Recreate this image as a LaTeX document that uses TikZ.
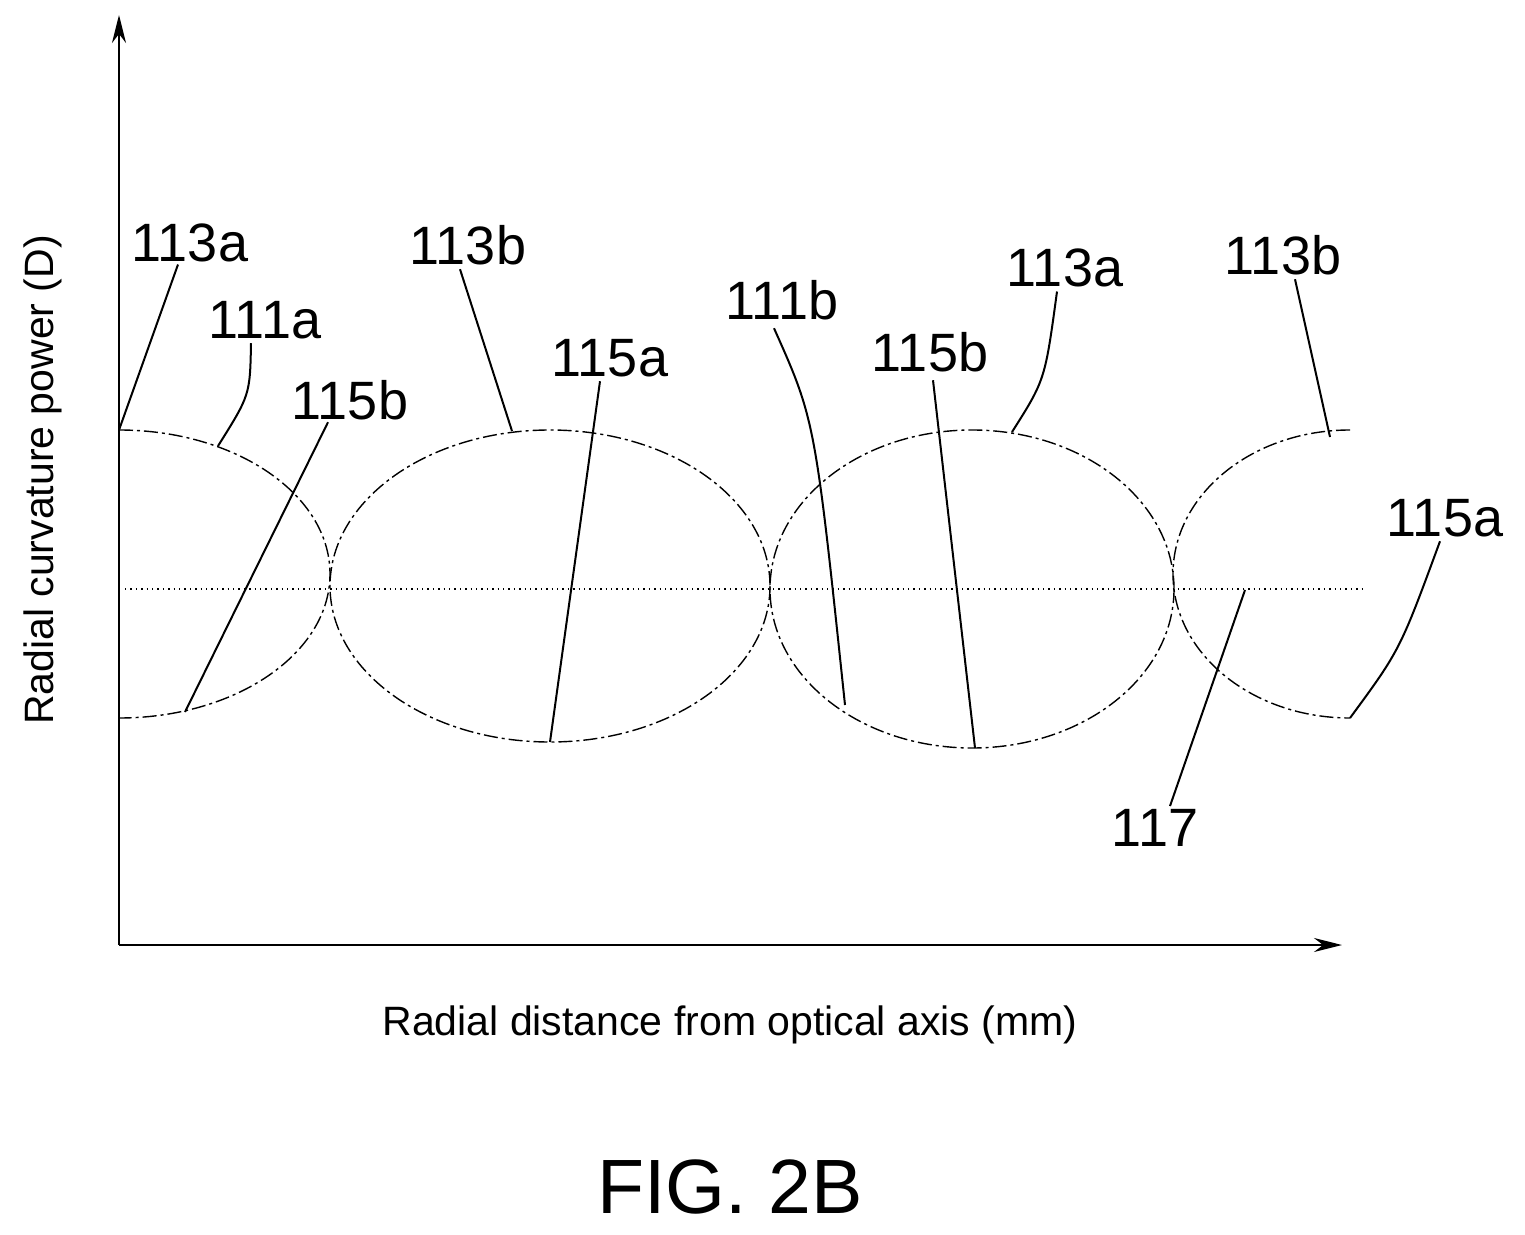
\documentclass[tikz,border=0pt]{standalone}
\usepackage{fontspec}
\setmainfont{Liberation Sans}
\usetikzlibrary{arrows.meta}
\begin{document}
\begin{tikzpicture}[x=0.5pt,y=-0.5pt,
 lbl/.style={font=\fontsize{27}{30}\selectfont,inner sep=0pt},
 curve/.style={line width=0.7pt,dash pattern=on 7pt off 2pt on 1.5pt off 2pt},
 lead/.style={line width=1pt}]
\useasboundingbox (0,0) rectangle (1525,1235);
\coordinate (O) at (119,945);
\coordinate (Ytop) at (119,15);
\coordinate (Xend) at (1342,945);
\draw[line width=1.2pt,-{Stealth[length=14pt,width=7pt]}] (O) -- (Ytop);
\draw[line width=1.2pt,-{Stealth[length=14pt,width=7pt]}] (O) -- (Xend);
\coordinate (d1) at (125,589); \coordinate (d2) at (1365,589);
\draw[line width=0.7pt,dotted] (d1) -- (d2);
% curves
\draw[curve] (119,430) arc[start angle=-90,end angle=90,x radius=211,y radius=144];
\draw[curve] (550,586) ellipse[x radius=220,y radius=156];
\draw[curve] (972,589) ellipse[x radius=202,y radius=159];
\draw[curve] (1350,430) arc[start angle=-90,end angle=-270,x radius=177,y radius=144];
% labels
\node[lbl] (a1) at (190,243) {113a};
\node[lbl] (a2) at (265,320) {111a};
\node[lbl] (a3) at (350,400) {115b};
\node[lbl] (a4) at (468,245) {113b};
\node[lbl] (a5) at (610,358) {115a};
\node[lbl] (a6) at (782,300) {111b};
\node[lbl] (a7) at (930,352) {115b};
\node[lbl] (a8) at (1065,268) {113a};
\node[lbl] (a9) at (1283,255) {113b};
\node[lbl] (a10) at (1445,518) {115a};
\node[lbl] (a11) at (1155,828) {117};
\coordinate (e1) at (119,430);
\coordinate (e2) at (218,446);
\coordinate (e3) at (185,712);
\coordinate (e4) at (512,431);
\coordinate (e5) at (550,742);
\coordinate (e6) at (845,705);
\coordinate (e7) at (975,748);
\coordinate (e8) at (1012,432);
\coordinate (e9) at (1330,437);
\coordinate (e10) at (1350,718);
\coordinate (e11) at (1245,590);
\draw[lead] (a1.south) ++(-12,2) -- (e1);
\draw[lead] (a2.south) ++(-14,4) .. controls (250,395) .. (e2);
\draw[lead] (a3.south) ++(-22,2) -- (e3);
\draw[lead] (a4.south) ++(-8,4) -- (e4);
\draw[lead] (a5.south) ++(-10,4) -- (e5);
\draw[lead] (a6.south) ++(-8,8) .. controls (815,420) .. (e6);
\draw[lead] (a7.south) ++(3,8) -- (e7);
\draw[lead] (a8.south) ++(-8,4) .. controls (1045,380) .. (e8);
\draw[lead] (a9.south) ++(12,4) -- (e9);
\draw[lead] (a10.south) ++(-5,4) .. controls (1400,650) .. (e10);
\draw[lead] (a11.north) ++(15,-3) -- (e11);
\node[font=\fontsize{20.5}{24}\selectfont] (xl) at (730,1025) {Radial distance from optical axis (mm)};
\node[font=\fontsize{20.5}{24}\selectfont,rotate=90] (yl) at (43,480) {Radial curvature power (D)};
\node[font=\fontsize{38.5}{44}\selectfont] (fig) at (730,1187) {FIG. 2B};
\end{tikzpicture}
\end{document}
